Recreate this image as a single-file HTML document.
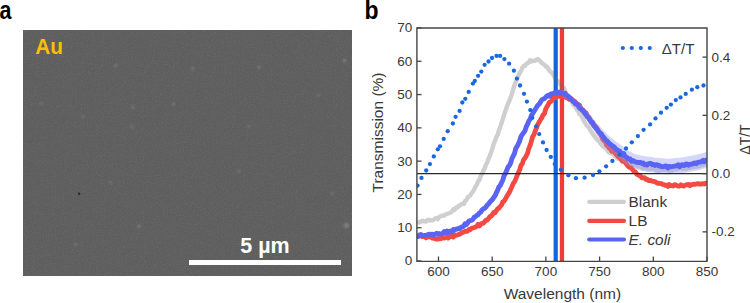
<!DOCTYPE html>
<html><head><meta charset="utf-8"><style>
html,body{margin:0;padding:0;background:#fff;}
body{width:750px;height:303px;position:relative;overflow:hidden;font-family:"Liberation Sans",sans-serif;}
</style></head><body>
<svg width="750" height="303" viewBox="0 0 750 303" style="position:absolute;left:0;top:0">
<defs><clipPath id="pc"><rect x="417" y="28" width="290" height="233"/></clipPath>
<filter id="sem" x="0" y="0" width="100%" height="100%"><feTurbulence type="fractalNoise" baseFrequency="0.9" numOctaves="2" seed="3" result="n"/><feColorMatrix in="n" type="matrix" values="0 0 0 0 0.37  0 0 0 0 0.37  0 0 0 0 0.37  0.33 0.33 0.33 0 -0.45" result="c"/><feComposite in="c" in2="SourceGraphic" operator="in"/></filter>
<filter id="blur1" x="-1" y="-1" width="3" height="3"><feGaussianBlur stdDeviation="0.8"/></filter>
</defs>
<text transform="translate(-0.6,18.7) scale(0.86,1)" font-family="'Liberation Sans', sans-serif" font-weight="bold" font-size="25" fill="#000">a</text>
<text transform="translate(364.6,18.6) scale(0.92,1)" font-family="'Liberation Sans', sans-serif" font-weight="bold" font-size="25" fill="#000">b</text>
<rect x="23" y="30" width="329" height="246" fill="#5e5e5e"/>
<rect x="23" y="30" width="329" height="246" fill="#ffffff" filter="url(#sem)" opacity="0.6"/>
<circle cx="115.7" cy="65.8" r="1.6" fill="#ffffff" opacity="0.16" filter="url(#blur1)"/>
<circle cx="41.3" cy="103.2" r="1.4" fill="#ffffff" opacity="0.14" filter="url(#blur1)"/>
<circle cx="83.2" cy="116.6" r="1.4" fill="#ffffff" opacity="0.14" filter="url(#blur1)"/>
<circle cx="132.8" cy="107.2" r="1.5" fill="#ffffff" opacity="0.14" filter="url(#blur1)"/>
<circle cx="132.0" cy="126.7" r="1.5" fill="#ffffff" opacity="0.14" filter="url(#blur1)"/>
<circle cx="173.4" cy="104.0" r="1.6" fill="#ffffff" opacity="0.16" filter="url(#blur1)"/>
<circle cx="192.9" cy="68.6" r="1.6" fill="#ffffff" opacity="0.16" filter="url(#blur1)"/>
<circle cx="259.1" cy="67.4" r="1.6" fill="#ffffff" opacity="0.16" filter="url(#blur1)"/>
<circle cx="344.5" cy="60.5" r="1.8" fill="#ffffff" opacity="0.18" filter="url(#blur1)"/>
<circle cx="249.0" cy="126.3" r="1.5" fill="#ffffff" opacity="0.14" filter="url(#blur1)"/>
<circle cx="318.0" cy="95.0" r="1.4" fill="#ffffff" opacity="0.11" filter="url(#blur1)"/>
<circle cx="138.9" cy="226.2" r="1.8" fill="#ffffff" opacity="0.16" filter="url(#blur1)"/>
<circle cx="110.4" cy="182.3" r="1.5" fill="#ffffff" opacity="0.14" filter="url(#blur1)"/>
<circle cx="75.8" cy="244.5" r="1.5" fill="#ffffff" opacity="0.14" filter="url(#blur1)"/>
<circle cx="346.5" cy="225.4" r="2.6" fill="#ffffff" opacity="0.20" filter="url(#blur1)"/>
<circle cx="332.3" cy="193.6" r="1.5" fill="#ffffff" opacity="0.14" filter="url(#blur1)"/>
<circle cx="238.8" cy="171.3" r="1.5" fill="#ffffff" opacity="0.14" filter="url(#blur1)"/>
<circle cx="79.1" cy="193.7" r="1.2" fill="#1a1a1a" opacity="0.8"/>
<text transform="translate(35.2,54.3) scale(0.965,1)" font-family="'Liberation Sans', sans-serif" font-weight="bold" font-size="21.5" fill="#fbbf00">Au</text>
<rect x="189" y="260" width="152" height="5" fill="#ffffff"/>
<text x="265" y="252.8" text-anchor="middle" font-family="'Liberation Sans', sans-serif" font-weight="bold" font-size="21.5" fill="#ffffff">5 µm</text>
<g clip-path="url(#pc)">
<rect x="553.6" y="28" width="4.2" height="233" fill="#1265dc"/>
<rect x="559.8" y="28" width="4.3" height="233" fill="#ee3b3b"/>
<path d="M417.00,221.63 L418.30,222.31 L419.60,222.46 L420.90,221.44 L422.20,220.80 L423.50,221.29 L424.80,221.39 L426.10,221.52 L427.40,220.03 L428.70,219.75 L430.00,220.59 L431.30,220.15 L432.60,220.37 L433.90,219.63 L435.20,218.56 L436.50,217.97 L437.80,219.07 L439.10,217.06 L440.40,216.33 L441.70,215.67 L443.00,215.86 L444.30,215.35 L445.60,214.49 L446.90,214.01 L448.20,213.52 L449.50,213.04 L450.80,212.51 L452.10,211.24 L453.40,209.32 L454.70,209.84 L456.00,207.78 L457.30,207.54 L458.60,205.85 L459.90,205.64 L461.20,204.15 L462.50,203.59 L463.80,204.09 L465.10,200.95 L466.40,200.02 L467.70,197.34 L469.00,196.37 L470.30,195.29 L471.60,193.18 L472.90,191.61 L474.20,189.42 L475.50,186.44 L476.80,184.69 L478.10,181.19 L479.40,180.04 L480.70,176.13 L482.00,174.10 L483.30,170.93 L484.60,168.57 L485.90,164.75 L487.20,162.55 L488.50,158.66 L489.80,156.06 L491.10,152.26 L492.40,148.36 L493.70,143.94 L495.00,140.98 L496.30,137.39 L497.60,134.80 L498.90,130.34 L500.20,127.11 L501.50,123.06 L502.80,118.93 L504.10,114.82 L505.40,110.94 L506.70,107.09 L508.00,103.72 L509.30,100.85 L510.60,97.65 L511.90,93.81 L513.20,89.28 L514.50,85.30 L515.80,81.84 L517.10,78.74 L518.40,75.54 L519.70,72.98 L521.00,70.98 L522.30,67.77 L523.60,65.87 L524.90,65.98 L526.20,63.93 L527.50,63.33 L528.80,62.30 L530.10,60.24 L531.40,61.43 L532.70,60.88 L534.00,60.63 L535.30,60.77 L536.60,59.78 L537.90,59.04 L539.20,60.19 L540.50,61.60 L541.80,63.06 L543.10,63.85 L544.40,64.59 L545.70,66.54 L547.00,66.74 L548.30,69.08 L549.60,70.88 L550.90,71.91 L552.20,72.93 L553.50,75.15 L554.80,77.40 L556.10,79.16 L557.40,81.36 L558.70,81.61 L560.00,83.83 L561.30,85.90 L562.60,87.26 L563.90,87.98 L565.20,91.73 L566.50,94.52 L567.80,95.73 L569.10,96.61 L570.40,98.84 L571.70,101.16 L573.00,104.41 L574.30,105.39 L575.60,107.13 L576.90,109.95 L578.20,111.10 L579.50,114.23 L580.80,114.91 L582.10,117.16 L583.40,119.98 L584.70,122.53 L586.00,124.25 L587.30,126.14 L588.60,127.02 L589.90,129.62 L591.20,131.56 L592.50,133.38 L593.80,135.69 L595.10,136.82 L596.40,139.03 L597.70,140.19 L599.00,141.48 L600.30,143.20 L601.60,144.78 L602.90,146.37 L604.20,146.94 L605.50,148.39 L606.80,149.03 L608.10,151.84 L609.40,152.83 L610.70,152.92 L612.00,153.70 L613.30,154.18 L614.60,155.82 L615.90,156.68 L617.20,158.57 L618.50,158.28 L619.80,158.46 L621.10,158.25 L622.40,161.05 L623.70,161.02 L625.00,160.63 L626.30,162.17 L627.60,161.72 L628.90,165.01 L630.20,164.19 L631.50,164.35 L632.80,164.38 L634.10,163.74 L635.40,165.27 L636.70,164.90 L638.00,166.48 L639.30,165.36 L640.60,166.41 L641.90,167.93 L643.20,168.49 L644.50,167.24 L645.80,167.33 L647.10,168.91 L648.40,169.14 L649.70,168.35 L651.00,168.72 L652.30,168.90 L653.60,168.80 L654.90,169.23 L656.20,170.42 L657.50,170.22 L658.80,171.06 L660.10,169.96 L661.40,169.98 L662.70,169.54 L664.00,170.02 L665.30,169.35 L666.60,169.06 L667.90,170.37 L669.20,170.71 L670.50,170.30 L671.80,170.48 L673.10,169.79 L674.40,169.15 L675.70,169.49 L677.00,169.11 L678.30,168.57 L679.60,168.11 L680.90,168.06 L682.20,168.71 L683.50,168.61 L684.80,168.08 L686.10,168.93 L687.40,168.03 L688.70,168.04 L690.00,168.17 L691.30,166.82 L692.60,165.94 L693.90,167.18 L695.20,166.13 L696.50,166.96 L697.80,166.16 L699.10,166.25 L700.40,165.84 L701.70,164.00 L703.00,165.25 L704.30,164.21 L705.60,163.88 L706.90,163.78" fill="none" stroke="#6e6e6e" stroke-opacity="0.33" stroke-width="4.4" stroke-linejoin="round"/>
<path d="M417.00,234.21 L418.30,235.40 L419.60,235.40 L420.90,235.57 L422.20,236.64 L423.50,236.41 L424.80,236.48 L426.10,237.86 L427.40,236.81 L428.70,236.60 L430.00,236.75 L431.30,237.42 L432.60,238.25 L433.90,238.50 L435.20,238.77 L436.50,239.21 L437.80,239.14 L439.10,238.51 L440.40,238.80 L441.70,238.31 L443.00,237.48 L444.30,238.07 L445.60,237.44 L446.90,237.08 L448.20,238.05 L449.50,237.09 L450.80,236.09 L452.10,235.99 L453.40,237.00 L454.70,235.21 L456.00,235.40 L457.30,234.98 L458.60,234.54 L459.90,234.15 L461.20,233.08 L462.50,232.56 L463.80,232.08 L465.10,231.26 L466.40,231.31 L467.70,231.19 L469.00,229.33 L470.30,229.62 L471.60,228.23 L472.90,227.84 L474.20,227.53 L475.50,227.13 L476.80,226.20 L478.10,224.34 L479.40,225.89 L480.70,224.25 L482.00,223.32 L483.30,223.32 L484.60,221.72 L485.90,220.18 L487.20,220.03 L488.50,218.68 L489.80,216.64 L491.10,216.22 L492.40,214.64 L493.70,212.54 L495.00,212.93 L496.30,210.85 L497.60,208.76 L498.90,208.22 L500.20,206.44 L501.50,205.12 L502.80,201.88 L504.10,201.15 L505.40,198.95 L506.70,196.61 L508.00,194.34 L509.30,192.40 L510.60,189.61 L511.90,186.71 L513.20,183.54 L514.50,181.87 L515.80,178.93 L517.10,175.64 L518.40,172.61 L519.70,169.90 L521.00,165.13 L522.30,163.91 L523.60,159.60 L524.90,158.27 L526.20,155.84 L527.50,153.31 L528.80,148.71 L530.10,145.47 L531.40,141.34 L532.70,136.49 L534.00,134.56 L535.30,130.77 L536.60,127.70 L537.90,124.27 L539.20,122.07 L540.50,119.59 L541.80,117.75 L543.10,114.69 L544.40,113.88 L545.70,109.09 L547.00,106.64 L548.30,104.47 L549.60,101.98 L550.90,101.60 L552.20,99.86 L553.50,97.85 L554.80,97.83 L556.10,97.70 L557.40,95.69 L558.70,96.18 L560.00,95.73 L561.30,97.09 L562.60,96.06 L563.90,95.70 L565.20,95.91 L566.50,97.80 L567.80,97.11 L569.10,99.34 L570.40,97.95 L571.70,99.52 L573.00,100.37 L574.30,101.03 L575.60,102.30 L576.90,103.89 L578.20,104.35 L579.50,105.29 L580.80,108.33 L582.10,109.98 L583.40,110.39 L584.70,112.58 L586.00,112.66 L587.30,116.41 L588.60,116.86 L589.90,119.08 L591.20,122.38 L592.50,122.26 L593.80,124.78 L595.10,126.00 L596.40,127.42 L597.70,129.72 L599.00,132.58 L600.30,133.93 L601.60,136.61 L602.90,139.51 L604.20,140.95 L605.50,142.10 L606.80,145.34 L608.10,146.17 L609.40,148.42 L610.70,148.51 L612.00,151.39 L613.30,151.00 L614.60,152.06 L615.90,154.08 L617.20,155.36 L618.50,156.95 L619.80,157.71 L621.10,159.60 L622.40,161.21 L623.70,161.31 L625.00,162.11 L626.30,163.85 L627.60,165.72 L628.90,166.89 L630.20,167.38 L631.50,168.16 L632.80,169.84 L634.10,171.57 L635.40,171.86 L636.70,174.17 L638.00,174.65 L639.30,175.65 L640.60,176.01 L641.90,177.89 L643.20,177.85 L644.50,177.60 L645.80,179.42 L647.10,179.22 L648.40,180.53 L649.70,180.48 L651.00,180.49 L652.30,181.37 L653.60,181.41 L654.90,181.62 L656.20,182.48 L657.50,183.30 L658.80,183.24 L660.10,183.49 L661.40,183.55 L662.70,184.48 L664.00,184.60 L665.30,185.28 L666.60,185.20 L667.90,186.36 L669.20,184.42 L670.50,185.35 L671.80,185.74 L673.10,186.00 L674.40,184.69 L675.70,184.89 L677.00,185.57 L678.30,186.19 L679.60,186.21 L680.90,184.74 L682.20,185.62 L683.50,186.15 L684.80,185.44 L686.10,184.77 L687.40,184.84 L688.70,184.39 L690.00,185.68 L691.30,184.74 L692.60,184.52 L693.90,184.14 L695.20,184.41 L696.50,183.84 L697.80,183.67 L699.10,184.05 L700.40,183.79 L701.70,184.01 L703.00,183.66 L704.30,184.06 L705.60,183.19 L706.90,183.18" fill="none" stroke="#f24a42" stroke-width="4.8" stroke-linejoin="round"/>
<path d="M556.00,92.65 C556.33,92.44 557.33,91.71 558.00,91.38 C558.67,91.04 559.33,90.82 560.00,90.64 C560.67,90.47 561.33,90.22 562.00,90.32 C562.67,90.43 563.33,90.93 564.00,91.27 C564.67,91.61 565.33,91.98 566.00,92.35 C566.67,92.71 567.33,93.02 568.00,93.47 C568.67,93.92 569.33,94.53 570.00,95.06 C570.67,95.59 571.33,96.11 572.00,96.65 C572.67,97.18 573.33,97.73 574.00,98.28 C574.67,98.84 575.33,99.40 576.00,99.96 C576.67,100.52 577.33,100.99 578.00,101.63 C578.67,102.27 579.33,103.10 580.00,103.81 C580.67,104.51 581.33,105.18 582.00,105.87 C582.67,106.55 583.33,107.23 584.00,107.92 C584.67,108.61 585.33,109.28 586.00,110.00 C586.67,110.71 587.33,111.47 588.00,112.20 C588.67,112.94 589.33,113.66 590.00,114.41 C590.67,115.16 591.33,115.89 592.00,116.71 C592.67,117.52 593.33,118.43 594.00,119.29 C594.67,120.15 595.33,121.03 596.00,121.88 C596.67,122.72 597.33,123.58 598.00,124.35 C598.67,125.12 599.33,125.76 600.00,126.50 C600.67,127.24 601.33,128.05 602.00,128.80 C602.67,129.55 603.33,130.32 604.00,131.03 C604.67,131.73 605.33,132.36 606.00,133.03 C606.67,133.70 607.33,134.39 608.00,135.03 C608.67,135.67 609.33,136.31 610.00,136.87 C610.67,137.43 611.33,137.88 612.00,138.39 C612.67,138.89 613.33,139.41 614.00,139.91 C614.67,140.41 615.33,140.91 616.00,141.40 C616.67,141.89 617.33,142.37 618.00,142.86 C618.67,143.35 619.33,143.82 620.00,144.32 C620.67,144.82 621.33,145.35 622.00,145.86 C622.67,146.37 623.33,146.88 624.00,147.39 C624.67,147.90 625.33,148.41 626.00,148.92 C626.67,149.43 627.33,150.02 628.00,150.45 C628.67,150.89 629.33,151.16 630.00,151.51 C630.67,151.86 631.33,152.21 632.00,152.56 C632.67,152.92 633.33,153.36 634.00,153.62 C634.67,153.88 635.33,153.96 636.00,154.13 C636.67,154.30 637.33,154.47 638.00,154.64 C638.67,154.81 639.33,154.98 640.00,155.15 C640.67,155.32 641.33,155.51 642.00,155.66 C642.67,155.81 643.33,155.96 644.00,156.07 C644.67,156.18 645.33,156.25 646.00,156.33 C646.67,156.42 647.33,156.51 648.00,156.59 C648.67,156.68 649.33,156.77 650.00,156.85 C650.67,156.94 651.33,157.03 652.00,157.12 C652.67,157.20 653.33,157.29 654.00,157.38 C654.67,157.46 655.33,157.56 656.00,157.64 C656.67,157.72 657.33,157.78 658.00,157.85 C658.67,157.91 659.33,157.98 660.00,158.04 C660.67,158.11 661.33,158.17 662.00,158.24 C662.67,158.30 663.33,158.37 664.00,158.43 C664.67,158.50 665.33,158.56 666.00,158.63 C666.67,158.69 667.33,158.82 668.00,158.82 C668.67,158.82 669.33,158.69 670.00,158.62 C670.67,158.56 671.33,158.49 672.00,158.43 C672.67,158.36 673.33,158.29 674.00,158.23 C674.67,158.16 675.33,158.09 676.00,158.03 C676.67,157.96 677.33,157.89 678.00,157.83 C678.67,157.76 679.33,157.69 680.00,157.63 C680.67,157.56 681.33,157.51 682.00,157.43 C682.67,157.34 683.33,157.24 684.00,157.12 C684.67,157.01 685.33,156.86 686.00,156.73 C686.67,156.60 687.33,156.47 688.00,156.34 C688.67,156.21 689.33,156.08 690.00,155.95 C690.67,155.82 691.33,155.69 692.00,155.56 C692.67,155.43 693.33,155.30 694.00,155.17 C694.67,155.04 695.33,154.92 696.00,154.78 C696.67,154.65 697.33,154.53 698.00,154.37 C698.67,154.20 699.33,153.99 700.00,153.80 C700.67,153.61 701.33,153.42 702.00,153.23 C702.67,153.04 703.33,152.85 704.00,152.66 C704.67,152.47 705.33,152.27 706.00,152.09 C706.67,151.90 707.67,151.61 708.00,151.52 L708.00,167.52 C707.67,167.61 706.67,167.89 706.00,168.07 C705.33,168.26 704.67,168.44 704.00,168.62 C703.33,168.80 702.67,168.99 702.00,169.17 C701.33,169.35 700.67,169.53 700.00,169.72 C699.33,169.90 698.67,170.11 698.00,170.26 C697.33,170.42 696.67,170.53 696.00,170.66 C695.33,170.79 694.67,170.90 694.00,171.03 C693.33,171.15 692.67,171.27 692.00,171.39 C691.33,171.51 690.67,171.64 690.00,171.76 C689.33,171.88 688.67,172.00 688.00,172.13 C687.33,172.25 686.67,172.37 686.00,172.49 C685.33,172.62 684.67,172.75 684.00,172.86 C683.33,172.97 682.67,173.06 682.00,173.14 C681.33,173.22 680.67,173.26 680.00,173.32 C679.33,173.38 678.67,173.43 678.00,173.49 C677.33,173.55 676.67,173.61 676.00,173.67 C675.33,173.73 674.67,173.79 674.00,173.85 C673.33,173.91 672.67,173.96 672.00,174.02 C671.33,174.08 670.67,174.14 670.00,174.20 C669.33,174.26 668.67,174.38 668.00,174.38 C667.33,174.37 666.67,174.23 666.00,174.16 C665.33,174.08 664.67,174.01 664.00,173.94 C663.33,173.87 662.67,173.79 662.00,173.72 C661.33,173.65 660.67,173.58 660.00,173.50 C659.33,173.43 658.67,173.36 658.00,173.28 C657.33,173.21 656.67,173.14 656.00,173.05 C655.33,172.97 654.67,172.86 654.00,172.77 C653.33,172.67 652.67,172.58 652.00,172.48 C651.33,172.39 650.67,172.29 650.00,172.20 C649.33,172.10 648.67,172.01 648.00,171.92 C647.33,171.82 646.67,171.73 646.00,171.63 C645.33,171.54 644.67,171.47 644.00,171.35 C643.33,171.23 642.67,171.07 642.00,170.91 C641.33,170.75 640.67,170.56 640.00,170.38 C639.33,170.20 638.67,170.02 638.00,169.85 C637.33,169.67 636.67,169.49 636.00,169.31 C635.33,169.14 634.67,169.05 634.00,168.78 C633.33,168.51 632.67,168.06 632.00,167.70 C631.33,167.34 630.67,166.98 630.00,166.62 C629.33,166.26 628.67,165.98 628.00,165.55 C627.33,165.11 626.67,164.51 626.00,163.99 C625.33,163.47 624.67,162.96 624.00,162.44 C623.33,161.92 622.67,161.40 622.00,160.88 C621.33,160.36 620.67,159.86 620.00,159.32 C619.33,158.78 618.67,158.21 618.00,157.66 C617.33,157.11 616.67,156.56 616.00,156.00 C615.33,155.44 614.67,154.88 614.00,154.31 C613.33,153.74 612.67,153.16 612.00,152.59 C611.33,152.01 610.67,151.49 610.00,150.87 C609.33,150.24 608.67,149.54 608.00,148.83 C607.33,148.13 606.67,147.36 606.00,146.63 C605.33,145.89 604.67,145.20 604.00,144.43 C603.33,143.65 602.67,142.82 602.00,142.00 C601.33,141.18 600.67,140.36 600.00,139.50 C599.33,138.64 598.67,137.79 598.00,136.85 C597.33,135.91 596.67,134.88 596.00,133.88 C595.33,132.87 594.67,131.82 594.00,130.79 C593.33,129.76 592.67,128.69 592.00,127.71 C591.33,126.73 590.67,125.83 590.00,124.91 C589.33,123.99 588.67,123.10 588.00,122.20 C587.33,121.30 586.67,120.38 586.00,119.50 C585.33,118.62 584.67,117.78 584.00,116.92 C583.33,116.07 582.67,115.22 582.00,114.37 C581.33,113.51 580.67,112.64 580.00,111.81 C579.33,110.97 578.67,110.10 578.00,109.37 C577.33,108.64 576.67,108.07 576.00,107.43 C575.33,106.78 574.67,106.13 574.00,105.48 C573.33,104.84 572.67,104.21 572.00,103.58 C571.33,102.95 570.67,102.34 570.00,101.73 C569.33,101.11 568.67,100.41 568.00,99.87 C567.33,99.33 566.67,98.93 566.00,98.48 C565.33,98.02 564.67,97.56 564.00,97.14 C563.33,96.71 562.67,96.38 562.00,95.92 C561.33,95.46 560.67,94.82 560.00,94.38 C559.33,93.93 558.67,93.53 558.00,93.24 C557.33,92.96 556.33,92.75 556.00,92.65 Z" fill="#8f96f0" fill-opacity="0.38" stroke="none"/>
<path d="M417.00,235.75 L418.30,236.52 L419.60,235.13 L420.90,234.47 L422.20,235.48 L423.50,235.57 L424.80,235.33 L426.10,235.28 L427.40,234.82 L428.70,234.44 L430.00,234.23 L431.30,234.40 L432.60,234.19 L433.90,234.79 L435.20,234.48 L436.50,233.29 L437.80,234.18 L439.10,233.57 L440.40,233.97 L441.70,233.93 L443.00,233.15 L444.30,231.59 L445.60,232.68 L446.90,231.20 L448.20,232.68 L449.50,231.18 L450.80,231.15 L452.10,231.93 L453.40,229.57 L454.70,230.18 L456.00,229.15 L457.30,229.00 L458.60,228.32 L459.90,228.54 L461.20,227.26 L462.50,226.77 L463.80,226.01 L465.10,223.75 L466.40,224.56 L467.70,222.72 L469.00,220.98 L470.30,220.55 L471.60,220.36 L472.90,219.34 L474.20,217.27 L475.50,216.56 L476.80,215.48 L478.10,214.74 L479.40,212.89 L480.70,212.29 L482.00,210.02 L483.30,208.89 L484.60,208.40 L485.90,207.07 L487.20,205.16 L488.50,203.98 L489.80,202.15 L491.10,200.85 L492.40,199.53 L493.70,197.57 L495.00,195.85 L496.30,192.94 L497.60,190.40 L498.90,186.82 L500.20,185.71 L501.50,182.70 L502.80,179.98 L504.10,175.60 L505.40,173.47 L506.70,170.60 L508.00,167.10 L509.30,165.79 L510.60,163.14 L511.90,158.59 L513.20,156.10 L514.50,153.34 L515.80,148.39 L517.10,146.43 L518.40,143.68 L519.70,140.90 L521.00,136.56 L522.30,134.47 L523.60,132.82 L524.90,130.94 L526.20,126.91 L527.50,124.37 L528.80,121.04 L530.10,119.19 L531.40,115.48 L532.70,113.56 L534.00,111.27 L535.30,109.43 L536.60,107.07 L537.90,105.20 L539.20,103.98 L540.50,102.12 L541.80,99.88 L543.10,99.09 L544.40,98.74 L545.70,97.22 L547.00,95.93 L548.30,95.34 L549.60,96.28 L550.90,93.82 L552.20,93.73 L553.50,93.40 L554.80,92.71 L556.10,93.28 L557.40,92.90 L558.70,92.56 L560.00,91.70 L561.30,93.49 L562.60,93.87 L563.90,94.12 L565.20,93.38 L566.50,95.65 L567.80,95.88 L569.10,97.46 L570.40,98.42 L571.70,99.41 L573.00,101.61 L574.30,102.20 L575.60,103.94 L576.90,103.90 L578.20,105.67 L579.50,107.97 L580.80,108.87 L582.10,109.78 L583.40,111.22 L584.70,112.92 L586.00,114.75 L587.30,116.73 L588.60,117.98 L589.90,119.93 L591.20,121.64 L592.50,123.00 L593.80,125.53 L595.10,127.12 L596.40,128.47 L597.70,130.23 L599.00,131.96 L600.30,133.14 L601.60,134.33 L602.90,136.61 L604.20,137.76 L605.50,139.82 L606.80,140.54 L608.10,142.26 L609.40,143.57 L610.70,144.33 L612.00,145.76 L613.30,146.26 L614.60,147.43 L615.90,149.15 L617.20,149.93 L618.50,150.72 L619.80,151.29 L621.10,153.13 L622.40,154.90 L623.70,153.59 L625.00,156.44 L626.30,156.97 L627.60,158.41 L628.90,159.31 L630.20,158.89 L631.50,161.17 L632.80,160.45 L634.10,161.16 L635.40,162.10 L636.70,162.10 L638.00,162.66 L639.30,162.54 L640.60,162.55 L641.90,163.42 L643.20,163.04 L644.50,164.65 L645.80,164.23 L647.10,165.08 L648.40,163.77 L649.70,163.47 L651.00,163.52 L652.30,164.75 L653.60,164.40 L654.90,165.48 L656.20,164.61 L657.50,164.82 L658.80,165.94 L660.10,165.75 L661.40,166.55 L662.70,166.79 L664.00,166.68 L665.30,165.90 L666.60,166.15 L667.90,167.94 L669.20,166.51 L670.50,166.75 L671.80,166.57 L673.10,166.39 L674.40,166.19 L675.70,165.84 L677.00,165.73 L678.30,164.73 L679.60,166.65 L680.90,165.47 L682.20,164.62 L683.50,165.46 L684.80,165.35 L686.10,163.95 L687.40,164.24 L688.70,165.15 L690.00,164.36 L691.30,164.05 L692.60,164.11 L693.90,163.21 L695.20,162.84 L696.50,163.62 L697.80,162.33 L699.10,162.08 L700.40,162.15 L701.70,161.46 L703.00,160.37 L704.30,161.74 L705.60,160.24 L706.90,160.90" fill="none" stroke="#5a63f2" stroke-width="4.9" stroke-linejoin="round"/>
<line x1="417" y1="173.6" x2="707" y2="173.6" stroke="#2a2a2a" stroke-width="1.4"/>
<circle cx="417.5" cy="185.6" r="2.15" fill="#1a68e0"/>
<circle cx="421.5" cy="177.9" r="2.15" fill="#1a68e0"/>
<circle cx="426.2" cy="170.5" r="2.15" fill="#1a68e0"/>
<circle cx="429.9" cy="164.1" r="2.15" fill="#1a68e0"/>
<circle cx="433.8" cy="156.4" r="2.15" fill="#1a68e0"/>
<circle cx="437.8" cy="149.3" r="2.15" fill="#1a68e0"/>
<circle cx="440.0" cy="146.3" r="2.15" fill="#1a68e0"/>
<circle cx="443.7" cy="138.9" r="2.15" fill="#1a68e0"/>
<circle cx="447.7" cy="131.2" r="2.15" fill="#1a68e0"/>
<circle cx="452.9" cy="123.5" r="2.15" fill="#1a68e0"/>
<circle cx="455.6" cy="116.8" r="2.15" fill="#1a68e0"/>
<circle cx="459.6" cy="110.9" r="2.15" fill="#1a68e0"/>
<circle cx="462.3" cy="102.5" r="2.15" fill="#1a68e0"/>
<circle cx="465.3" cy="98.8" r="2.15" fill="#1a68e0"/>
<circle cx="468.7" cy="91.9" r="2.15" fill="#1a68e0"/>
<circle cx="472.9" cy="83.6" r="2.15" fill="#1a68e0"/>
<circle cx="474.8" cy="81.0" r="2.15" fill="#1a68e0"/>
<circle cx="478.1" cy="75.8" r="2.15" fill="#1a68e0"/>
<circle cx="481.3" cy="71.6" r="2.15" fill="#1a68e0"/>
<circle cx="484.6" cy="64.8" r="2.15" fill="#1a68e0"/>
<circle cx="488.5" cy="61.5" r="2.15" fill="#1a68e0"/>
<circle cx="492.0" cy="58.0" r="2.15" fill="#1a68e0"/>
<circle cx="496.5" cy="55.9" r="2.15" fill="#1a68e0"/>
<circle cx="500.1" cy="55.9" r="2.15" fill="#1a68e0"/>
<circle cx="504.4" cy="59.1" r="2.15" fill="#1a68e0"/>
<circle cx="509.1" cy="63.7" r="2.15" fill="#1a68e0"/>
<circle cx="513.9" cy="70.7" r="2.15" fill="#1a68e0"/>
<circle cx="516.9" cy="78.6" r="2.15" fill="#1a68e0"/>
<circle cx="520.0" cy="85.5" r="2.15" fill="#1a68e0"/>
<circle cx="524.0" cy="93.8" r="2.15" fill="#1a68e0"/>
<circle cx="526.9" cy="101.6" r="2.15" fill="#1a68e0"/>
<circle cx="530.3" cy="110.1" r="2.15" fill="#1a68e0"/>
<circle cx="532.3" cy="117.8" r="2.15" fill="#1a68e0"/>
<circle cx="536.2" cy="126.3" r="2.15" fill="#1a68e0"/>
<circle cx="539.2" cy="134.1" r="2.15" fill="#1a68e0"/>
<circle cx="543.0" cy="142.4" r="2.15" fill="#1a68e0"/>
<circle cx="546.6" cy="150.0" r="2.15" fill="#1a68e0"/>
<circle cx="550.8" cy="156.9" r="2.15" fill="#1a68e0"/>
<circle cx="554.8" cy="164.1" r="2.15" fill="#1a68e0"/>
<circle cx="560.9" cy="169.8" r="2.15" fill="#1a68e0"/>
<circle cx="568.4" cy="175.3" r="2.15" fill="#1a68e0"/>
<circle cx="575.9" cy="178.2" r="2.15" fill="#1a68e0"/>
<circle cx="584.6" cy="177.7" r="2.15" fill="#1a68e0"/>
<circle cx="593.0" cy="175.0" r="2.15" fill="#1a68e0"/>
<circle cx="599.4" cy="171.3" r="2.15" fill="#1a68e0"/>
<circle cx="606.1" cy="166.3" r="2.15" fill="#1a68e0"/>
<circle cx="612.4" cy="161.0" r="2.15" fill="#1a68e0"/>
<circle cx="619.4" cy="154.7" r="2.15" fill="#1a68e0"/>
<circle cx="626.0" cy="148.5" r="2.15" fill="#1a68e0"/>
<circle cx="631.8" cy="142.3" r="2.15" fill="#1a68e0"/>
<circle cx="637.9" cy="136.1" r="2.15" fill="#1a68e0"/>
<circle cx="643.6" cy="129.8" r="2.15" fill="#1a68e0"/>
<circle cx="650.1" cy="124.4" r="2.15" fill="#1a68e0"/>
<circle cx="655.5" cy="118.4" r="2.15" fill="#1a68e0"/>
<circle cx="661.0" cy="112.7" r="2.15" fill="#1a68e0"/>
<circle cx="666.7" cy="107.8" r="2.15" fill="#1a68e0"/>
<circle cx="670.9" cy="104.6" r="2.15" fill="#1a68e0"/>
<circle cx="675.8" cy="100.1" r="2.15" fill="#1a68e0"/>
<circle cx="680.5" cy="97.4" r="2.15" fill="#1a68e0"/>
<circle cx="685.7" cy="93.9" r="2.15" fill="#1a68e0"/>
<circle cx="691.9" cy="89.7" r="2.15" fill="#1a68e0"/>
<circle cx="697.3" cy="87.2" r="2.15" fill="#1a68e0"/>
<circle cx="703.5" cy="85.5" r="2.15" fill="#1a68e0"/>
</g>
<path d="M416.9,28 L707,28 M707,27.3 L707,261.4 M707.7,261.4 L416.2,261.4 M416.9,262.1 L416.9,27.3" fill="none" stroke="#454545" stroke-width="1.4"/>
<line x1="417" y1="261.00" x2="421.5" y2="261.00" stroke="#454545" stroke-width="1.3"/>
<text x="412.2" y="265.40" text-anchor="end" font-family="'Liberation Sans', sans-serif" font-size="13.5" fill="#383838">0</text>
<line x1="417" y1="227.71" x2="421.5" y2="227.71" stroke="#454545" stroke-width="1.3"/>
<text x="412.2" y="232.11" text-anchor="end" font-family="'Liberation Sans', sans-serif" font-size="13.5" fill="#383838">10</text>
<line x1="417" y1="194.43" x2="421.5" y2="194.43" stroke="#454545" stroke-width="1.3"/>
<text x="412.2" y="198.83" text-anchor="end" font-family="'Liberation Sans', sans-serif" font-size="13.5" fill="#383838">20</text>
<line x1="417" y1="161.14" x2="421.5" y2="161.14" stroke="#454545" stroke-width="1.3"/>
<text x="412.2" y="165.54" text-anchor="end" font-family="'Liberation Sans', sans-serif" font-size="13.5" fill="#383838">30</text>
<line x1="417" y1="127.86" x2="421.5" y2="127.86" stroke="#454545" stroke-width="1.3"/>
<text x="412.2" y="132.26" text-anchor="end" font-family="'Liberation Sans', sans-serif" font-size="13.5" fill="#383838">40</text>
<line x1="417" y1="94.57" x2="421.5" y2="94.57" stroke="#454545" stroke-width="1.3"/>
<text x="412.2" y="98.97" text-anchor="end" font-family="'Liberation Sans', sans-serif" font-size="13.5" fill="#383838">50</text>
<line x1="417" y1="61.29" x2="421.5" y2="61.29" stroke="#454545" stroke-width="1.3"/>
<text x="412.2" y="65.69" text-anchor="end" font-family="'Liberation Sans', sans-serif" font-size="13.5" fill="#383838">60</text>
<line x1="417" y1="28.00" x2="421.5" y2="28.00" stroke="#454545" stroke-width="1.3"/>
<text x="412.2" y="32.40" text-anchor="end" font-family="'Liberation Sans', sans-serif" font-size="13.5" fill="#383838">70</text>
<line x1="702.5" y1="231.85" x2="707" y2="231.85" stroke="#454545" stroke-width="1.3"/>
<text x="711.5" y="236.25" font-family="'Liberation Sans', sans-serif" font-size="13.5" fill="#383838">-0.2</text>
<line x1="702.5" y1="173.60" x2="707" y2="173.60" stroke="#454545" stroke-width="1.3"/>
<text x="711.5" y="178.00" font-family="'Liberation Sans', sans-serif" font-size="13.5" fill="#383838">0.0</text>
<line x1="702.5" y1="115.35" x2="707" y2="115.35" stroke="#454545" stroke-width="1.3"/>
<text x="711.5" y="119.75" font-family="'Liberation Sans', sans-serif" font-size="13.5" fill="#383838">0.2</text>
<line x1="702.5" y1="57.10" x2="707" y2="57.10" stroke="#454545" stroke-width="1.3"/>
<text x="711.5" y="61.50" font-family="'Liberation Sans', sans-serif" font-size="13.5" fill="#383838">0.4</text>
<line x1="438.48" y1="256.5" x2="438.48" y2="261" stroke="#454545" stroke-width="1.3"/>
<text x="438.48" y="276.3" text-anchor="middle" font-family="'Liberation Sans', sans-serif" font-size="13.5" fill="#383838">600</text>
<line x1="492.19" y1="256.5" x2="492.19" y2="261" stroke="#454545" stroke-width="1.3"/>
<text x="492.19" y="276.3" text-anchor="middle" font-family="'Liberation Sans', sans-serif" font-size="13.5" fill="#383838">650</text>
<line x1="545.89" y1="256.5" x2="545.89" y2="261" stroke="#454545" stroke-width="1.3"/>
<text x="545.89" y="276.3" text-anchor="middle" font-family="'Liberation Sans', sans-serif" font-size="13.5" fill="#383838">700</text>
<line x1="599.59" y1="256.5" x2="599.59" y2="261" stroke="#454545" stroke-width="1.3"/>
<text x="599.59" y="276.3" text-anchor="middle" font-family="'Liberation Sans', sans-serif" font-size="13.5" fill="#383838">750</text>
<line x1="653.30" y1="256.5" x2="653.30" y2="261" stroke="#454545" stroke-width="1.3"/>
<text x="653.30" y="276.3" text-anchor="middle" font-family="'Liberation Sans', sans-serif" font-size="13.5" fill="#383838">800</text>
<line x1="707.00" y1="256.5" x2="707.00" y2="261" stroke="#454545" stroke-width="1.3"/>
<text x="707.00" y="276.3" text-anchor="middle" font-family="'Liberation Sans', sans-serif" font-size="13.5" fill="#383838">850</text>
<text x="562.4" y="299.2" text-anchor="middle" font-family="'Liberation Sans', sans-serif" font-size="15.5" fill="#383838">Wavelength (nm)</text>
<text transform="translate(382.8,132.5) rotate(-90)" text-anchor="middle" font-family="'Liberation Sans', sans-serif" font-size="15.5" fill="#383838">Transmission (%)</text>
<text transform="translate(749.5,139.5) rotate(-90)" text-anchor="middle" font-family="'Liberation Sans', sans-serif" font-size="14" fill="#383838">ΔT/T</text>
<circle cx="622.8" cy="48" r="2.1" fill="#1a68e0"/>
<circle cx="631.8" cy="48" r="2.1" fill="#1a68e0"/>
<circle cx="640.8" cy="48" r="2.1" fill="#1a68e0"/>
<circle cx="649.8" cy="48" r="2.1" fill="#1a68e0"/>
<text x="661.8" y="53.6" font-family="'Liberation Sans', sans-serif" font-size="15" fill="#383838">ΔT/T</text>
<line x1="589.2" y1="201.9" x2="624" y2="201.9" stroke="#cfcfcf" stroke-width="4.1" stroke-linecap="round"/>
<text x="628.6" y="206.9" font-family="'Liberation Sans', sans-serif" font-size="15.4" fill="#383838">Blank</text>
<line x1="589.2" y1="220.9" x2="624" y2="220.9" stroke="#f24a42" stroke-width="4.1" stroke-linecap="round"/>
<text x="628.6" y="225.9" font-family="'Liberation Sans', sans-serif" font-size="15.4" fill="#383838">LB</text>
<line x1="589.2" y1="239.5" x2="624" y2="239.5" stroke="#5a63f2" stroke-width="4.1" stroke-linecap="round"/>
<text x="628.6" y="244.5" font-style="italic" font-family="'Liberation Sans', sans-serif" font-size="15.4" fill="#383838">E. coli</text>
</svg>
</body></html>
